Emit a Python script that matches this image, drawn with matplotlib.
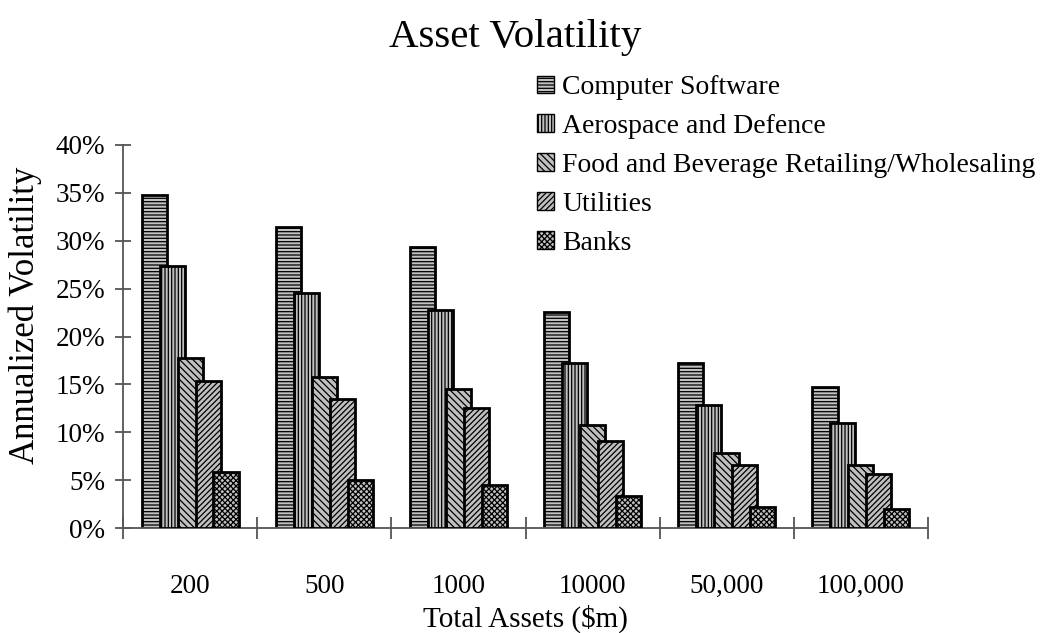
import numpy as np
import matplotlib.pyplot as plt
from matplotlib.ticker import PercentFormatter, FixedLocator

plt.rcParams['font.family'] = ['Liberation Serif', 'DejaVu Serif']
plt.rcParams['hatch.linewidth'] = 0.9

categories = ["200", "500", "1000", "10000", "50,000", "100,000"]
series = ["Computer Software", "Aerospace and Defence",
          "Food and Beverage Retailing/Wholesaling", "Utilities", "Banks"]
software = [34.8, 31.4, 29.3, 22.6, 17.2, 14.7]
aerospace = [27.4, 24.5, 22.8, 17.2, 12.8, 11.0]
food = [17.8, 15.8, 14.5, 10.8, 7.8, 6.6]
utilities = [15.4, 13.5, 12.5, 9.1, 6.6, 5.6]
banks = [5.8, 5.0, 4.5, 3.3, 2.2, 2.0]
values = [software, aerospace, food, utilities, banks]
hatches = ['-----', '|||||', '\\\\\\\\\\', '//////', 'xxxxxx']

fig = plt.figure(figsize=(10.58, 6.33), dpi=100)
ax = fig.add_axes([123 / 1058, 1 - 528 / 633, (928 - 123) / 1058, (528 - 145) / 633])

x = np.arange(len(categories)) + 0.5
step = 0.134
width = 0.187
for i, (name, vals) in enumerate(zip(series, values)):
    off = (i - 2) * step
    ax.bar(x + off, np.array(vals) / 100, width, color='#c0c0c0', edgecolor='black',
           linewidth=2, hatch=hatches[i], label=name, zorder=2 + i)

ax.set_xlim(0, len(categories))
ax.set_ylim(0, 0.4)
ax.set_yticks(np.arange(0, 0.41, 0.05))
ax.yaxis.set_major_formatter(PercentFormatter(1.0, decimals=0))
ax.set_xticks(x)
ax.set_xticklabels(categories)
ax.xaxis.set_minor_locator(FixedLocator(np.arange(0, len(categories) + 1)))
ax.tick_params(axis='x', which='major', length=0, pad=33, labelsize=19.5)
ax.tick_params(axis='x', which='minor', direction='inout', length=16, color='#555555', width=1.3)
ax.tick_params(axis='y', direction='inout', length=12, color='#555555', width=1.3,
               labelsize=19.5, pad=7)

for s in ['top', 'right']:
    ax.spines[s].set_visible(False)
ax.spines['left'].set_color('#555555')
ax.spines['bottom'].set_color('#555555')
ax.spines['left'].set_linewidth(1.3)
ax.spines['bottom'].set_linewidth(1.3)

ax.set_ylabel("Annualized Volatility", fontsize=25)
ax.yaxis.set_label_coords(-0.1, 0.555)
ax.set_xlabel("Total Assets ($m)", fontsize=21, labelpad=4)
fig.text(515 / 1058, 1 - 38 / 633, "Asset Volatility", fontsize=29.5, ha='center', va='center')

leg = ax.legend(loc='upper left', bbox_to_anchor=(526 / 1058, 1 - 64 / 633),
                bbox_transform=fig.transFigure, frameon=False, fontsize=20,
                handlelength=0.6, handleheight=0.6, handletextpad=0.3,
                labelspacing=0.5, borderaxespad=0)
for h in leg.legend_handles:
    h.set_linewidth(1)

fig.savefig("out.png", dpi=100)
